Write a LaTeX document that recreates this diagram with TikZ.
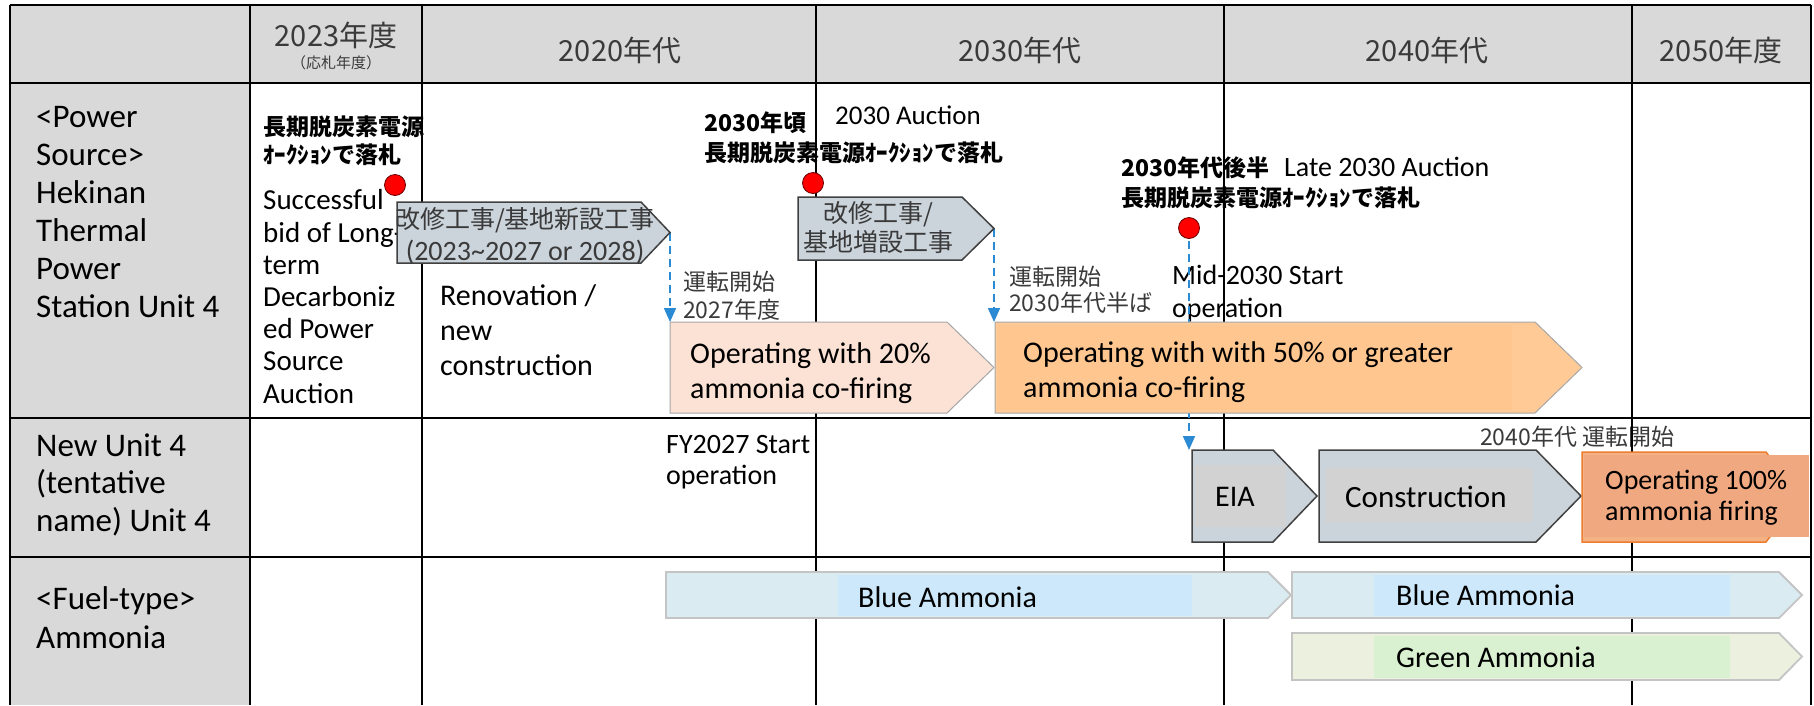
\documentclass[tikz,border=0pt]{standalone}
\usepackage{fontspec}
\setmainfont{Carlito}
\newfontfamily\jp{Noto Sans CJK JP}
\usetikzlibrary{arrows.meta}
\definecolor{hdr}{HTML}{D9D9D9}
\definecolor{jtxt}{HTML}{3A3A3A}
\definecolor{cblue}{HTML}{2A8AD4}
\definecolor{gbox}{HTML}{CBD3DB}
\definecolor{ginner}{HTML}{D2D2D2}
\definecolor{gedge}{HTML}{404040}
\definecolor{pk}{HTML}{FBE2D5}
\definecolor{orA}{HTML}{FFCA95}
\definecolor{orB}{HTML}{FFC78F}
\definecolor{opF}{HTML}{F4B183}
\definecolor{opE}{HTML}{ED7D31}
\definecolor{opO}{HTML}{F0A880}
\definecolor{boxedge}{HTML}{A6A6A6}
\definecolor{blA}{HTML}{DAEBF1}
\definecolor{blB}{HTML}{CCE8FA}
\definecolor{grA}{HTML}{EBF0DF}
\definecolor{grB}{HTML}{D9F1D0}
\definecolor{baredge}{HTML}{C4C4C4}
\newcommand\pentdraw[6]{\draw[#1] (#2,#3) -- (#5,#3) -- (#6,{(#3+#4)/2}) -- (#5,#4) -- (#2,#4) -- cycle;}
\begin{document}
\begin{tikzpicture}[x=1pt,y=-1pt,
  lbl/.style={anchor=west,inner sep=0pt,align=left},
  ctr/.style={anchor=center,inner sep=0pt,align=center},
  gridline/.style={line width=2pt,black},
  conn/.style={draw=cblue,line width=1.6pt,dash pattern=on 8pt off 5pt,-{Triangle[length=14pt,width=12pt,fill=cblue]}},
  reddot/.style={circle,fill=red,draw=red!40!black,line width=0.8pt,minimum size=21pt,inner sep=0pt}]
\useasboundingbox (0,0) rectangle (1814,705);
% fills
\fill[hdr] (10,5) rectangle (1811,83);
\fill[hdr] (10,83) rectangle (250,705);
% row labels
\node[lbl,font=\fontsize{33}{38}\selectfont] (row1) at (36,212) {<Power\\Source>\\Hekinan\\Thermal\\Power\\Station Unit 4};
\node[lbl,font=\fontsize{33}{37.5}\selectfont] (row2) at (36,484.5) {New Unit 4\\(tentative\\name) Unit 4};
\node[lbl,font=\fontsize{33}{39}\selectfont] (row3) at (36,617.5) {<Fuel-type>\\Ammonia};
% header
\node[ctr,font=\jp\fontsize{29}{29}\selectfont,text=jtxt] (h2023) at (336,35) {2023年度};
\node[ctr,font=\jp\fontsize{15}{15}\selectfont,text=jtxt] (h2023s) at (336,63) {（応札年度）};
\node[ctr,font=\jp\fontsize{29}{29}\selectfont,text=jtxt] (h2020) at (620,50) {2020年代};
\node[ctr,font=\jp\fontsize{29}{29}\selectfont,text=jtxt] (h2030) at (1020,50) {2030年代};
\node[ctr,font=\jp\fontsize{29}{29}\selectfont,text=jtxt] (h2040) at (1427,50) {2040年代};
\node[ctr,font=\jp\fontsize{29}{29}\selectfont,text=jtxt] (h2050) at (1721,50) {2050年度};
% free labels
\node[lbl,font=\jp\bfseries\fontsize{23}{28}\selectfont] (bid1) at (263,141) {長期脱炭素電源\\ｵｰｸｼｮﾝで落札};
\node[lbl,font=\fontsize{29}{32.2}\selectfont] (bid1en) at (263,296.5) {Successful\\bid of Long-\\term\\Decarboniz\\ed Power\\Source\\Auction};
\node[lbl,font=\fontsize{30}{35}\selectfont] (renov) at (440,330) {Renovation /\\new\\construction};
\node[lbl,font=\jp\fontsize{23}{28}\selectfont,text=jtxt] (op1) at (683,296) {運転開始\\2027年度};
\node[lbl,font=\jp\bfseries\fontsize{23}{30}\selectfont] (bid2) at (704,138) {2030年頃\\長期脱炭素電源ｵｰｸｼｮﾝで落札};
\node[lbl,font=\fontsize{27}{27}\selectfont] (auc2) at (835,115) {2030 Auction};
\node[lbl,font=\jp\bfseries\fontsize{23}{30}\selectfont] (bid3) at (1121,183) {2030年代後半\\長期脱炭素電源ｵｰｸｼｮﾝで落札};
\node[lbl,font=\fontsize{28}{28}\selectfont] (auc3) at (1284,167) {Late 2030 Auction};
\node[lbl,font=\jp\fontsize{23}{26}\selectfont,text=jtxt] (op2) at (1009,290) {運転開始\\2030年代半ば};
\node[lbl,font=\fontsize{28}{33}\selectfont] (mid) at (1172,293.5) {Mid-2030 Start\\operation};
\node[lbl,font=\fontsize{28}{31}\selectfont] (fy) at (666,462.5) {FY2027 Start\\operation};
\node[lbl,font=\jp\fontsize{23}{23}\selectfont,text=jtxt] (op3) at (1480,437) {2040年代 運転開始};
% grid
\draw[gridline] (10,5) -- (1811,5);
\draw[gridline] (10,83) -- (1811,83);
\draw[gridline] (10,418) -- (1811,418);
\draw[gridline] (10,557) -- (1811,557);
\foreach \xx in {10,250,422,816,1224,1632,1811} {\draw[gridline] (\xx,5) -- (\xx,705);}
% connectors
\coordinate (g1tip) at (670,232.5);
\coordinate (b1nw) at (670,322);
\draw[conn] (g1tip) -- (b1nw);
\coordinate (g2tip) at (994,228.5);
\coordinate (b2nw) at (995,322);
\draw[conn] (g2tip) -- (g2tip |- b2nw);
\coordinate (d3c) at (1189,228);
\coordinate (eianw) at (1192,450);
\draw[conn] (d3c) -- (d3c |- eianw);
% construction arrows row 1
\pentdraw{fill=gbox,draw=gedge,line width=1.5pt}{397}{202}{263}{641}{670}
\node[ctr,font=\fontsize{28}{32}\selectfont,text=jtxt] (g1txt) at (525,236) {{\jp\fontsize{25}{32}\selectfont 改修工事/基地新設工事}\\(2023\textasciitilde2027 or 2028)};
\pentdraw{fill=gbox,draw=gedge,line width=1.5pt}{798}{197}{260}{962}{994}
\node[ctr,font=\jp\fontsize{25}{29}\selectfont,text=jtxt] (g2txt) at (878,227.5) {改修工事/\\基地増設工事};
% operating boxes row 1
\pentdraw{fill=pk,draw=boxedge,line width=1pt}{670}{322}{413}{947}{994}
\node[lbl,font=\fontsize{30}{35}\selectfont] (b1txt) at (690,373.5) {Operating with 20\%\\ammonia co-firing};
\pentdraw{fill=orA,draw=boxedge,line width=1pt}{995}{322}{413}{1535}{1582}
\fill[orB] (998,325) rectangle (1512,410);
\node[lbl,font=\fontsize{30}{35}\selectfont] (b2txt) at (1023,372.5) {Operating with with 50\% or greater\\ammonia co-firing};
% row 2
\pentdraw{fill=gbox,draw=gedge,line width=1.5pt}{1192}{450}{542}{1273}{1317}
\fill[ginner] (1195,465) rectangle (1286,527);
\node[lbl,font=\fontsize{30}{30}\selectfont] (eiatxt) at (1215,497) {EIA};
\pentdraw{fill=gbox,draw=gedge,line width=1.5pt}{1319}{450}{542}{1536}{1581}
\fill[ginner] (1326,468) rectangle (1533,522);
\node[lbl,font=\fontsize{31}{31}\selectfont] (contxt) at (1345,497) {Construction};
\pentdraw{fill=opF,draw=opE,line width=1.5pt}{1582}{452}{542}{1766}{1800}
\fill[opO] (1584,455) rectangle (1809,537);
\node[lbl,font=\fontsize{28}{31}\selectfont] (optxt) at (1605,497.5) {Operating 100\%\\ammonia firing};
% row 3
\pentdraw{fill=blA,draw=baredge,line width=1.8pt}{666}{572}{618}{1268}{1291}
\fill[blB] (838,575) rectangle (1192,616);
\node[lbl,font=\fontsize{30}{30}\selectfont] (blue1) at (858,597) {Blue Ammonia};
\pentdraw{fill=blA,draw=baredge,line width=1.8pt}{1292}{572}{618}{1779}{1802}
\fill[blB] (1374,575) rectangle (1730,616);
\node[lbl,font=\fontsize{30}{30}\selectfont] (blue2) at (1396,595) {Blue Ammonia};
\pentdraw{fill=grA,draw=baredge,line width=1.8pt}{1292}{633}{680}{1779}{1802}
\fill[grB] (1374,636) rectangle (1730,678);
\node[lbl,font=\fontsize{30}{30}\selectfont] (green) at (1396,657) {Green Ammonia};
% dots
\node[reddot] (dot1) at (395,185) {};
\node[reddot] (dot2) at (813,183) {};
\node[reddot] (dot3) at (d3c) {};
\end{tikzpicture}
\end{document}
